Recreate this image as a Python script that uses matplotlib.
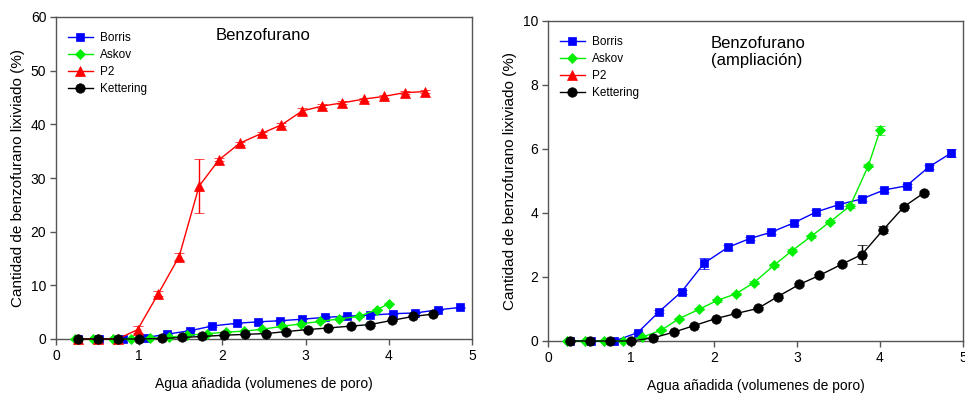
import matplotlib
matplotlib.use("Agg")
import matplotlib.pyplot as plt
from matplotlib.lines import Line2D

plt.rcParams['font.family'] = ['Liberation Sans', 'DejaVu Sans']

# Leached benzofuran (%) vs added water (pore volumes)
borris_x = [0.265, 0.52, 0.80, 1.08, 1.34, 1.61, 1.88, 2.17, 2.43, 2.69, 2.96, 3.23, 3.50, 3.78, 4.05, 4.32, 4.59, 4.86]
borris_y = [0.0, 0.0, 0.0, 0.26, 0.92, 1.54, 2.43, 2.93, 3.20, 3.40, 3.69, 4.03, 4.26, 4.44, 4.72, 4.85, 5.44, 5.88]
borris_err = [0, 0, 0, 0.03, 0.05, 0.06, 0.17, 0.08, 0.05, 0.05, 0.05, 0.05, 0.05, 0.05, 0.05, 0.05, 0.05, 0.12]

askov_x = [0.23, 0.45, 0.68, 0.90, 1.13, 1.36, 1.58, 1.82, 2.04, 2.26, 2.48, 2.72, 2.94, 3.17, 3.40, 3.64, 3.86, 4.00]
askov_y = [0.0, 0.0, 0.0, 0.0, 0.12, 0.33, 0.70, 0.99, 1.27, 1.47, 1.82, 2.36, 2.82, 3.27, 3.73, 4.22, 5.48, 6.58]
askov_err = [0, 0, 0, 0, 0.02, 0.03, 0.03, 0.03, 0.04, 0.04, 0.05, 0.05, 0.05, 0.05, 0.05, 0.07, 0.05, 0.15]

p2_x = [0.26, 0.50, 0.74, 0.98, 1.23, 1.48, 1.72, 1.96, 2.21, 2.47, 2.71, 2.96, 3.20, 3.44, 3.70, 3.94, 4.19, 4.43]
p2_y = [0.0, 0.0, 0.0, 1.74, 8.46, 15.37, 28.5, 33.4, 36.5, 38.3, 39.9, 42.5, 43.4, 44.0, 44.7, 45.2, 45.9, 46.1]
p2_err = [0, 0, 0, 0.7, 0.4, 0.7, 5.0, 0.3, 0.3, 0.3, 0.3, 0.5, 0.3, 0.3, 0.3, 0.3, 0.3, 0.3]

kett_x = [0.265, 0.505, 0.746, 1.00, 1.27, 1.52, 1.76, 2.02, 2.27, 2.53, 2.77, 3.03, 3.27, 3.54, 3.78, 4.04, 4.29, 4.53]
kett_y = [0.0, 0.0, 0.0, 0.0, 0.10, 0.28, 0.48, 0.70, 0.86, 1.02, 1.39, 1.77, 2.05, 2.40, 2.70, 3.48, 4.20, 4.63]
kett_err = [0, 0, 0, 0, 0.02, 0.02, 0.03, 0.03, 0.03, 0.04, 0.04, 0.04, 0.05, 0.05, 0.30, 0.12, 0.05, 0.05]

series_names = ["Borris", "Askov", "P2", "Kettering"]
colors = ["#0000ff", "#00ee00", "#ff0000", "#000000"]
markers = ["s", "D", "^", "o"]
msizes = [6.2, 5.6, 6.8, 6.8]

xlabel = "Agua añadida (volumenes de poro)"
ylabel = "Cantidad de benzofurano lixiviado (%)"

fig = plt.figure(figsize=(9.65, 3.94), dpi=100)
ax1 = fig.add_axes([56 / 965, 1 - 339 / 394, 416 / 965, 322 / 394])
ax2 = fig.add_axes([548 / 965, 1 - 341 / 394, 415 / 965, 320 / 394])

all_series = [
    (borris_x, borris_y, borris_err),
    (askov_x, askov_y, askov_err),
    (p2_x, p2_y, p2_err),
    (kett_x, kett_y, kett_err),
]


def draw(ax, include):
    for i, (x, y, e) in enumerate(all_series):
        if not include[i]:
            continue
        ax.errorbar(x, y, yerr=e, color=colors[i], marker=markers[i],
                    markersize=msizes[i], lw=1, elinewidth=1, capsize=3.5,
                    capthick=1, markeredgewidth=0.5, zorder=3 + i,
                    clip_on=False)


def style(ax, ymax, ystep):
    ax.set_xlim(0, 5)
    ax.set_ylim(0, ymax)
    ax.set_xticks(range(0, 6))
    ax.set_yticks(range(0, ymax + 1, ystep))
    for s in ax.spines.values():
        s.set_color("#555555")
        s.set_linewidth(1)
    ax.tick_params(direction="out", length=4, width=1, color="#555555",
                   labelsize=10, top=False, right=False, pad=3)
    ax.set_xlabel(xlabel, fontsize=10, labelpad=10)
    ax.set_ylabel(ylabel, fontsize=11, labelpad=4)
    handles = [Line2D([0], [0], color=colors[i], marker=markers[i],
                      markersize=msizes[i], lw=1, markeredgewidth=0.5)
               for i in range(4)]
    ax.legend(handles, series_names, loc="upper left", frameon=False,
              fontsize=8.5, handlelength=2.1, handletextpad=0.6,
              labelspacing=0.42, borderaxespad=0.6,
              bbox_to_anchor=(0.0, 0.99))


draw(ax1, [True, True, True, True])
style(ax1, 60, 10)
ax1.text(0.498, 0.944, "Benzofurano", transform=ax1.transAxes, ha="center",
         va="center", fontsize=12)

draw(ax2, [True, True, False, True])
style(ax2, 10, 2)
ax2.text(0.392, 0.903, "Benzofurano\n(ampliación)", transform=ax2.transAxes,
         ha="left", va="center", fontsize=12, linespacing=1.2)

fig.savefig("out.png", dpi=100)
